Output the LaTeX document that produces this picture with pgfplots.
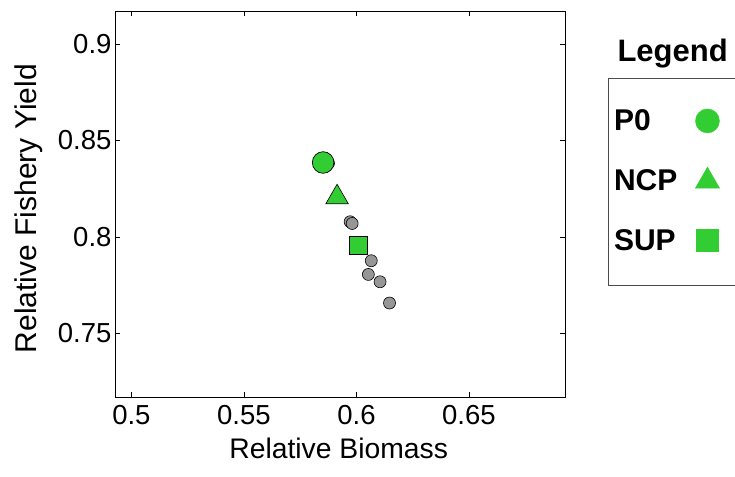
\documentclass[border=0pt]{standalone}
\usepackage{pgfplots}
\pgfplotsset{compat=1.18}
\usepackage{fontspec}
\setmainfont{Liberation Sans}
\definecolor{lgreen}{RGB}{50,205,50}
\definecolor{mgray}{RGB}{150,150,150}
\begin{document}
\begin{tikzpicture}[x=1pt,y=1pt]
\useasboundingbox (0,0) rectangle (735,476);
\begin{axis}[
  at={(115pt,79pt)}, anchor=south west,
  width=450pt, height=386pt, scale only axis,
  xmin=0.4927, xmax=0.6927, ymin=0.717, ymax=0.917,
  xtick={0.5,0.55,0.6,0.65}, xticklabels={0.5,0.55,0.6,0.65},
  ytick={0.75,0.8,0.85,0.9}, yticklabels={0.75,0.8,0.85,0.9},
  tick align=inside, major tick length=5pt,
  tick style={black, line width=0.6pt},
  axis line style={line width=0.8pt},
  ticklabel style={font=\fontsize{27.5}{32}\selectfont},
  xticklabel style={yshift=-5pt},
  xlabel={Relative Biomass}, ylabel={Relative Fishery Yield},
  xlabel style={at={(axis description cs:0.497,-0.134)}, anchor=center, font=\fontsize{28.3}{33}\selectfont},
  ylabel style={at={(axis description cs:-0.191,0.488)}, anchor=center, rotate=0, font=\fontsize{30}{35}\selectfont},
  legend plot pos=right,
  legend cell align=left,
  legend style={at={(1.104,0.75)}, anchor=north west, draw=none, fill=none,
    font=\bfseries\fontsize{30}{35}\selectfont, row sep=33pt, inner sep=0pt,
    /tikz/every odd column/.append style={column sep=16pt}},
  clip=false,
]
% grey points
\addplot[only marks, mark=*, mark size=6pt, mark options={fill=mgray, draw=black, line width=0.6pt}, forget plot]
 coordinates {(0.5876,0.8381) (0.5972,0.8078) (0.5981,0.8069) (0.6066,0.7876) (0.6053,0.7805) (0.6105,0.7767) (0.6147,0.7657)};
% green points
\addplot[only marks, mark=*, mark size=10.8pt, mark options={fill=lgreen, draw=black, line width=0.7pt}, forget plot]
 coordinates {(0.5852,0.8385)};
\addplot[only marks, mark=triangle*, mark size=13pt, mark options={fill=lgreen, draw=black, line width=0.6pt}, forget plot]
 coordinates {(0.5914,0.8205)};
\addplot[only marks, mark=square*, mark size=9pt, mark options={fill=lgreen, draw=black, line width=0.6pt}, forget plot]
 coordinates {(0.6008,0.7957)};
\addlegendimage{only marks, mark=*, mark size=12pt, mark options={fill=lgreen, draw=lgreen}}
\addlegendentry{P0}
\addlegendimage{only marks, mark=triangle*, mark size=14pt, mark options={fill=lgreen, draw=lgreen}}
\addlegendentry{NCP}
\addlegendimage{only marks, mark=square*, mark size=11pt, mark options={fill=lgreen, draw=lgreen}}
\addlegendentry{SUP}
\end{axis}
\draw[line width=0.8pt, black!70] (608,398) rectangle (745,191);
\node[anchor=west, font=\bfseries\fontsize{31}{36}\selectfont] at (614,422) {Legend};
\end{tikzpicture}
\end{document}
